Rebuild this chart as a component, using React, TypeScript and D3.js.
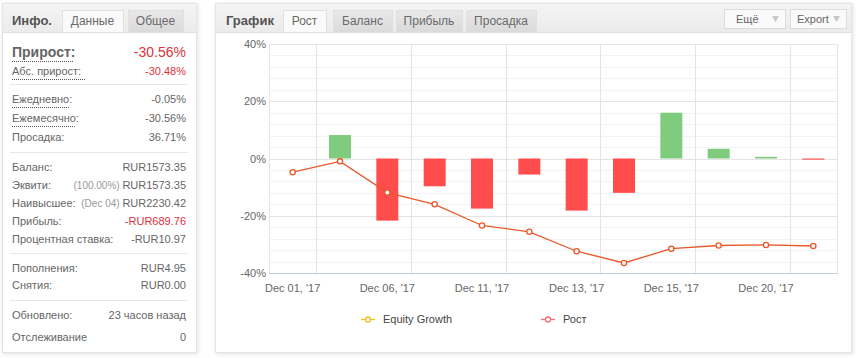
import React, { useEffect, useRef } from 'react';
import * as d3 from 'd3';

// daily growth per trading day (bars) and cumulative growth (line), in %
const categories = [
  "Dec 01, '17", "Dec 04, '17", "Dec 06, '17", "Dec 08, '17", "Dec 11, '17", "Dec 12, '17",
  "Dec 13, '17", "Dec 14, '17", "Dec 15, '17", "Dec 18, '17", "Dec 20, '17", "Dec 21, '17",
];
const dailyGrowth = [0, 8.2, -21.7, -9.7, -17.5, -5.6, -18.2, -12.0, 16.0, 3.4, 0.6, -0.4];
const cumulativeGrowth = [-4.8, -1.0, -11.9, -16.0, -23.4, -25.6, -32.4, -36.5, -31.5, -30.4, -30.2, -30.56];
const yTicks = [-40, -20, 0, 20, 40];

type Row = { label: string; value: string; note?: string; red?: boolean; dotted?: boolean; y: number };

const infoRows: Row[] = [
  { label: 'Абс. прирост:', value: '-30.48%', red: true, dotted: true, y: 75 },
  { label: 'Ежедневно:', value: '-0.05%', dotted: true, y: 103 },
  { label: 'Ежемесячно:', value: '-30.56%', dotted: true, y: 122 },
  { label: 'Просадка:', value: '36.71%', y: 141 },
  { label: 'Баланс:', value: 'RUR1573.35', y: 171 },
  { label: 'Эквити:', value: 'RUR1573.35', note: '(100.00%)', y: 189 },
  { label: 'Наивысшее:', value: 'RUR2230.42', note: '(Dec 04)', y: 207 },
  { label: 'Прибыль:', value: '-RUR689.76', red: true, y: 225 },
  { label: 'Процентная ставка:', value: '-RUR10.97', y: 243 },
  { label: 'Пополнения:', value: 'RUR4.95', y: 272 },
  { label: 'Снятия:', value: 'RUR0.00', y: 289 },
  { label: 'Обновлено:', value: '23 часов назад', y: 319 },
  { label: 'Отслеживание', value: '0', y: 341 },
];
const separators = [84, 152, 253, 300];

const FONT = 'Liberation Sans, Arial, sans-serif';
const TEXT = '#666';
const RED = '#e0323c';

const Tab: React.FC<{ x: number; w: number; label: string; active?: boolean }> = ({ x, w, label, active }) => (
  <g>
    <rect x={x + 0.5} y={10.5} width={w} height={22} fill={active ? '#fafafa' : 'url(#tabGray)'} stroke="#e0e0e0" />
    <text x={x + w / 2} y={25} textAnchor="middle" fontSize={12} fill="#6a6a6a">{label}</text>
  </g>
);

const InfoPanel: React.FC = () => {
  const left = 12;
  const right = 186;
  return (
    <g fontFamily={FONT}>
      <rect x={2.5} y={3.5} width={194} height={349} fill="#fff" stroke="#e4e4e4" filter="url(#shadow)" />
      <rect x={3} y={4} width={193} height={28.5} fill="url(#headGray)" />
      <Tab x={62} w={61} label="Данные" active />
      <Tab x={128} w={55} label="Общее" />
      <line x1={2} x2={62} y1={32.5} y2={32.5} stroke="#e0e0e0" />
      <line x1={123} x2={197} y1={32.5} y2={32.5} stroke="#e0e0e0" />
      <text x={12} y={25} fontSize={13} fontWeight="bold" fill="#555">Инфо.</text>
      <text x={left} y={57} fontSize={14} fontWeight="bold" fill={TEXT}>Прирост:</text>
      <line x1={left} x2={left + 62} y1={61.5} y2={61.5} stroke="#555" strokeDasharray="1,1" />
      <text x={right} y={57} fontSize={14} fill={RED} textAnchor="end">-30.56%</text>
      {infoRows.map((r) => (
        <g key={r.label}>
          <text x={left} y={r.y} fontSize={11} fill={TEXT}>{r.label}</text>
          {r.dotted && (
            <line x1={left} x2={left + r.label.length * 5.7} y1={r.y + 4.5} y2={r.y + 4.5} stroke="#555" strokeDasharray="1,1" />
          )}
          <text x={right} y={r.y} fontSize={11} fill={r.red ? RED : TEXT} textAnchor="end">
            {r.note && <tspan fill="#999" fontSize={10}>{r.note} </tspan>}
            {r.value}
          </text>
        </g>
      ))}
      {separators.map((s) => (
        <line key={s} x1={10} x2={188} y1={s + 0.5} y2={s + 0.5} stroke="#e8e8e8" />
      ))}
    </g>
  );
};

const GrowthChart: React.FC = () => {
  const ref = useRef<SVGGElement>(null);

  useEffect(() => {
    if (!ref.current) return;
    const g = d3.select(ref.current);
    g.selectAll('*').remove();

    const plot = { left: 269, right: 837, top: 44, bottom: 273 };
    const x = d3.scaleBand<string>().domain(categories).range([plot.left, plot.right]);
    const y = d3.scaleLinear().domain([-40, 40]).range([plot.bottom, plot.top]);
    const bw = x.bandwidth();

    // minor horizontal grid every 4%
    g.append('g')
      .selectAll('line')
      .data(d3.range(-36, 40, 4).filter((v) => v % 20 !== 0))
      .enter()
      .append('line')
      .attr('x1', plot.left)
      .attr('x2', plot.right)
      .attr('y1', (d) => Math.round(y(d)) + 0.5)
      .attr('y2', (d) => Math.round(y(d)) + 0.5)
      .attr('stroke', '#f3f3f3');

    // major horizontal grid
    g.append('g')
      .selectAll('line')
      .data(yTicks)
      .enter()
      .append('line')
      .attr('x1', plot.left)
      .attr('x2', plot.right)
      .attr('y1', (d) => Math.round(y(d)) + 0.5)
      .attr('y2', (d) => Math.round(y(d)) + 0.5)
      .attr('stroke', '#e4e4e4');

    // vertical grid at every second category boundary
    const boundaries = categories.slice(1).filter((_, i) => i % 2 === 0);
    g.append('g')
      .selectAll('line')
      .data(boundaries)
      .enter()
      .append('line')
      .attr('x1', (d) => Math.round(x(d) || 0) + 0.5)
      .attr('x2', (d) => Math.round(x(d) || 0) + 0.5)
      .attr('y1', plot.top)
      .attr('y2', plot.bottom)
      .attr('stroke', '#e4e4e4');

    // plot border
    g.append('rect')
      .attr('x', plot.left + 0.5)
      .attr('y', plot.top + 0.5)
      .attr('width', plot.right - plot.left)
      .attr('height', plot.bottom - plot.top)
      .attr('fill', 'none')
      .attr('stroke', '#e6e6e6');
    g.append('line')
      .attr('x1', plot.left)
      .attr('x2', plot.right + 1)
      .attr('y1', plot.bottom + 0.5)
      .attr('y2', plot.bottom + 0.5)
      .attr('stroke', '#c0d0e0');

    // y labels
    g.append('g')
      .selectAll('text')
      .data(yTicks)
      .enter()
      .append('text')
      .attr('x', plot.left - 3)
      .attr('y', (d) => y(d) + 4)
      .attr('text-anchor', 'end')
      .attr('font-size', 11)
      .attr('fill', TEXT)
      .text((d) => `${d}%`);

    // x labels on every second category
    g.append('g')
      .selectAll('text')
      .data(categories.filter((_, i) => i % 2 === 0))
      .enter()
      .append('text')
      .attr('x', (d) => (x(d) || 0) + bw / 2)
      .attr('y', plot.bottom + 19)
      .attr('text-anchor', 'middle')
      .attr('font-size', 11)
      .attr('fill', TEXT)
      .text((d) => d);

    // bars
    const barW = 22;
    g.append('g')
      .selectAll('rect')
      .data(dailyGrowth.map((v, i) => ({ v, c: categories[i] })))
      .enter()
      .append('rect')
      .attr('x', (d) => (x(d.c) || 0) + bw / 2 - barW / 2)
      .attr('y', (d) => (d.v >= 0 ? y(d.v) : y(0)))
      .attr('width', barW)
      .attr('height', (d) => Math.abs(y(d.v) - y(0)))
      .attr('fill', (d) => (d.v >= 0 ? '#7fcc7f' : '#ff4c4c'));

    // cumulative growth line
    const pts = cumulativeGrowth.map((v, i) => [(x(categories[i]) || 0) + bw / 2, y(v)] as [number, number]);
    g.append('path')
      .attr('d', d3.line()(pts))
      .attr('fill', 'none')
      .attr('stroke', '#e8582a')
      .attr('stroke-width', 1.3);
    g.append('g')
      .selectAll('circle')
      .data(pts)
      .enter()
      .append('circle')
      .attr('cx', (d) => d[0])
      .attr('cy', (d) => d[1])
      .attr('r', 2.6)
      .attr('fill', '#fff')
      .attr('stroke', '#e8582a')
      .attr('stroke-width', 1.3);
  }, []);

  const buttons = [
    { x: 724, w: 61, label: 'Ещё', tx: 736 },
    { x: 790, w: 56, label: 'Export', tx: 797 },
  ];

  return (
    <g fontFamily={FONT}>
      <rect x={215.5} y={3.5} width={636} height={349} fill="#fff" stroke="#e4e4e4" filter="url(#shadow)" />
      <rect x={216} y={4} width={635} height={28.5} fill="url(#headGray)" />
      <Tab x={283} w={43} label="Рост" active />
      <Tab x={333} w={59} label="Баланс" />
      <Tab x={396} w={66} label="Прибыль" />
      <Tab x={466} w={70} label="Просадка" />
      <line x1={215} x2={283} y1={32.5} y2={32.5} stroke="#e0e0e0" />
      <line x1={326} x2={852} y1={32.5} y2={32.5} stroke="#e0e0e0" />
      <text x={226} y={25} fontSize={13} fontWeight="bold" fill="#555">График</text>
      {buttons.map((b) => (
        <g key={b.label}>
          <rect x={b.x + 0.5} y={9.5} width={b.w} height={19} fill="#fafafa" stroke="#dcdcdc" />
          <text x={b.tx} y={23} fontSize={11} fill={TEXT}>{b.label}</text>
          <path d={`M${b.x + b.w - 13},16 l7,0 l-3.5,6 z`} fill="#c8c8c8" />
        </g>
      ))}
      <g ref={ref} />
      {/* legend */}
      <g>
        <line x1={361} x2={375} y1={319.5} y2={319.5} stroke="#f0c020" strokeWidth={1.3} />
        <circle cx={368} cy={319.5} r={2.5} fill="#fff" stroke="#f0c020" strokeWidth={1.3} />
        <text x={383} y={323} fontSize={11} fill="#444">Equity Growth</text>
        <line x1={541} x2={555} y1={319.5} y2={319.5} stroke="#f07070" strokeWidth={1.3} />
        <circle cx={548} cy={319.5} r={2.5} fill="#fff" stroke="#f07070" strokeWidth={1.3} />
        <text x={563} y={323} fontSize={11} fill="#444">Рост</text>
      </g>
    </g>
  );
};

export default function App() {
  return (
    <svg width={856} height={358} style={{ position: 'absolute', left: 0, top: 0 }}>
      <defs>
        <linearGradient id="headGray" x1="0" y1="0" x2="0" y2="1">
          <stop offset="0" stopColor="#f4f4f4" />
          <stop offset="1" stopColor="#ebebeb" />
        </linearGradient>
        <linearGradient id="tabGray" x1="0" y1="0" x2="0" y2="1">
          <stop offset="0" stopColor="#e8e8e8" />
          <stop offset="1" stopColor="#dadada" />
        </linearGradient>
        <filter id="shadow" x="-5%" y="-5%" width="110%" height="110%">
          <feDropShadow dx="1" dy="1" stdDeviation="2" floodColor="#000" floodOpacity="0.12" />
        </filter>
      </defs>
      <rect width={856} height={358} fill="#fff" />
      <InfoPanel />
      <GrowthChart />
    </svg>
  );
}
